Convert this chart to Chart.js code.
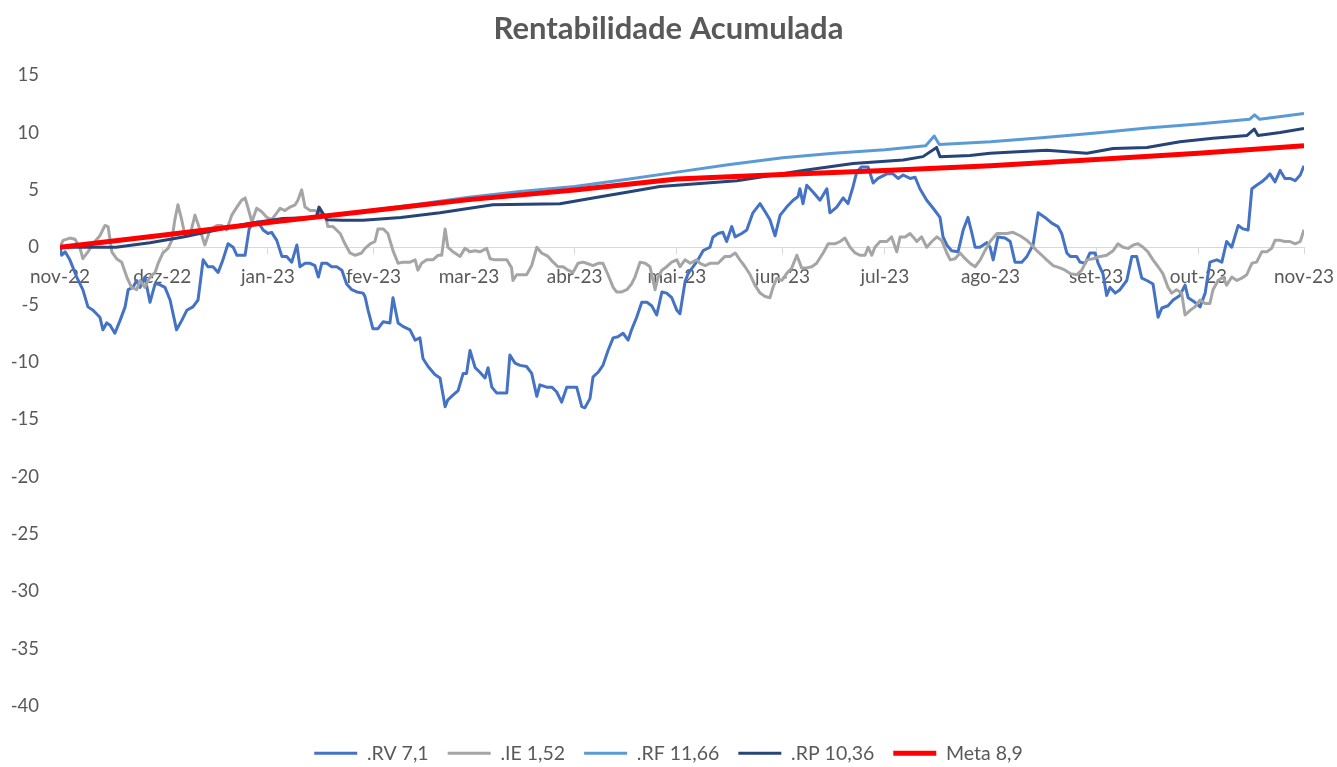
<!DOCTYPE html>
<html><head><meta charset="utf-8">
<script src="https://cdn.jsdelivr.net/npm/chart.js@4.4.0/dist/chart.umd.min.js"></script>
<style>
html,body{margin:0;padding:0;background:#fff;overflow:hidden;width:1337px;height:767px}
#wrap{position:absolute;left:0;top:0;width:1337px;height:773px}
</style>
</head><body><div id="wrap"><canvas id="c"></canvas></div>
<script>
// Month tick labels (day offsets from 1 Nov 2022)
const monthLabels = ['nov-22','dez-22','jan-23','fev-23','mar-23','abr-23','mai-23','jun-23','jul-23','ago-23','set-23','out-23','nov-23'];
const monthDays = [0,30,61,92,120,151,181,212,242,273,304,334,365];

// .RV
const rvDays = [0,0.5,1.5,2.9,4.9,6.7,8.2,9.7,11.7,12.6,13.7,14.7,16.1,17.6,19.1,20.0,21.4,22.5,23.5,24.9,26.4,27.9,28.8,30.8,32.3,34.2,35.7,37.2,39.0,40.5,42.0,43.4,44.9,46.4,47.8,49.3,50.8,51.9,53.3,54.3,55.5,56.6,58.1,59.6,61.0,62.1,63.6,65.1,66.5,68.0,69.5,70.4,71.9,73.4,74.8,75.8,76.8,78.3,79.7,81.2,82.7,84.1,85.6,87.1,88.9,89.5,90.4,91.8,93.3,94.8,96.8,97.7,99.2,100.6,102.7,104.2,105.6,106.5,108.0,110.0,111.5,113.0,113.8,115.3,116.8,118.3,119.3,120.3,121.8,123.2,124.7,125.6,126.7,128.1,129.6,131.1,132.0,133.5,135.0,136.9,138.4,139.9,140.8,142.8,144.3,145.7,147.2,148.7,150.1,151.6,153.1,154.0,155.5,156.4,157.9,159.3,160.8,162.3,163.7,165.2,166.7,167.7,169.2,170.7,172.2,173.6,175.1,176.6,178.0,179.5,181.0,181.9,183.4,184.3,187.2,188.7,190.7,191.6,193.1,194.5,195.6,197.1,198.1,200.0,201.5,203.3,205.4,206.9,208.3,209.8,211.3,213.2,215.1,216.5,217.1,218.0,219.1,221.0,223.0,225.0,225.9,227.9,229.8,231.2,232.7,233.8,235.2,237.1,238.6,240.0,242.6,244.4,245.9,247.4,249.4,250.9,252.3,254.3,256.2,258.2,259.1,260.2,261.6,263.5,265.0,266.4,267.5,268.5,269.9,271.9,272.9,273.8,275.2,277.3,278.8,280.2,282.2,283.7,285.5,287.0,289.0,291.0,292.8,293.9,295.4,296.4,298.3,299.3,300.8,302.2,303.7,304.6,306.0,307.1,308.1,309.6,311.0,313.0,314.5,315.9,317.4,318.9,320.7,322.2,323.3,325.1,326.6,328.6,330.1,331.0,333.0,334.5,336.0,337.4,339.4,340.9,342.3,343.8,345.7,347.1,348.6,349.7,351.1,352.6,354.1,355.0,356.5,358.0,359.4,360.9,362.4,363.9,365];
const rvValues = [0,-0.7,-0.4,-1.1,-2.6,-3.7,-5.2,-5.5,-6.1,-7.2,-6.6,-6.8,-7.5,-6.4,-5.2,-3.7,-3.5,-2.9,-3.5,-2.6,-4.8,-3.2,-3.2,-3.5,-4.6,-7.2,-6.4,-5.5,-5.2,-4.6,-1.1,-1.7,-1.7,-2.2,-1.1,0.3,0,-0.7,-0.7,-0.7,1.6,2.1,2.2,1.5,1.2,1.3,0.6,-0.8,-0.8,-1.3,0.2,-1.7,-1.4,-1.4,-1.6,-2.6,-1.4,-1.4,-1.7,-1.7,-2.0,-3.2,-3.7,-3.9,-4.0,-4.3,-5.5,-7.1,-7.1,-6.5,-6.6,-4.4,-6.6,-6.9,-7.2,-8.1,-7.9,-9.7,-10.4,-11.1,-11.4,-13.9,-13.3,-12.9,-12.5,-11.0,-11.0,-9.0,-10.5,-10.9,-11.4,-10.5,-12.2,-12.7,-12.7,-12.7,-9.4,-10.1,-10.3,-10.4,-11.0,-13.0,-12.0,-12.2,-12.2,-12.6,-13.5,-12.2,-12.2,-12.2,-13.9,-14.0,-13.2,-11.3,-10.9,-10.3,-9.0,-7.9,-7.8,-7.5,-8.1,-7.2,-6.1,-4.8,-4.8,-5.1,-5.9,-3.9,-4.0,-4.4,-5.5,-5.8,-3.0,-2.3,-1.1,-0.3,0,0.9,1.2,1.3,0.5,1.8,0.9,1.2,1.5,3.0,3.8,3.1,2.4,1.0,2.8,3.5,4.1,4.4,5.1,3.8,5.4,4.8,4.1,5.1,3.0,3.5,4.3,3.8,5.3,6.6,7.0,7.0,5.6,6.0,6.4,6.4,6.0,6.3,6.0,6.1,5.1,4.1,3.4,2.6,0.9,0.2,-0.3,-0.4,1.5,2.6,1.3,0,0,0.4,0,-1.1,0.9,0.8,0.5,-1.3,-1.3,-0.8,0.2,3.0,2.6,2.1,1.8,1.2,-0.5,-0.8,-0.8,-1.3,-1.4,-0.5,-0.5,-1.4,-2.3,-4.2,-3.5,-4.0,-3.7,-2.9,-0.8,-0.8,-2.7,-2.9,-3.2,-6.1,-5.3,-5.1,-4.6,-4.2,-3.3,-4.4,-4.8,-5.2,-4.0,-1.3,-1.1,-1.3,0.5,0,1.9,1.6,1.5,5.1,5.4,5.7,6.1,6.4,5.7,6.7,6.0,6.0,5.8,6.3,7.1];

// .IE
const ieDays = [0,0.9,2.9,4.4,5.9,6.7,8.2,9.7,11.7,13.2,14.1,15.2,16.6,18.1,19.6,21.0,22.5,23.5,24.9,26.4,27.9,28.8,30.2,31.7,32.8,33.7,34.6,35.7,36.7,38.1,39.6,41.1,42.5,44.0,46.0,47.4,48.9,50.4,51.9,53.3,54.3,55.2,56.3,57.7,59.2,60.7,62.1,63.6,64.6,66.0,67.5,69.0,69.8,70.9,71.9,73.4,74.8,76.3,77.8,78.6,80.1,82.2,83.6,85.1,86.6,88.5,89.5,91.0,92.4,93.3,94.8,96.2,97.7,99.2,100.6,102.7,104.2,105.0,106.1,107.6,109.4,110.9,112.0,113.0,113.8,115.3,117.4,118.8,120.3,121.8,123.2,125.2,126.2,127.6,129.1,131.1,132.5,132.9,134.0,135.5,136.9,138.4,139.9,141.3,143.2,144.7,146.1,147.6,149.1,150.5,152.0,153.5,154.5,156.4,157.9,159.3,160.8,162.3,163.3,164.8,166.3,167.7,168.7,170.2,171.7,173.1,174.6,175.5,176.6,178.0,179.5,181.0,181.9,183.4,184.9,186.8,187.8,189.3,190.7,193.1,195.1,196.6,198.1,199.5,201.0,202.5,203.9,205.4,206.9,208.3,209.2,210.3,211.8,213.2,214.7,216.2,217.6,219.1,220.6,222.0,223.9,225.4,227.4,228.9,230.3,231.8,233.3,234.7,236.2,237.1,238.2,239.1,240.6,242.6,244.0,245.5,246.5,248.0,249.4,250.3,251.4,252.8,254.3,255.8,257.3,258.7,260.2,261.2,262.6,264.1,265.6,267.0,268.5,270.0,271.4,272.9,274.9,277.8,279.6,281.7,283.7,285.1,286.6,288.1,289.5,291.4,293.4,294.9,296.4,298.3,299.8,301.3,303.1,305.2,307.1,309.0,310.4,311.9,313.4,314.9,316.3,317.8,319.2,320.7,322.2,323.6,325.1,326.2,327.6,329.1,330.1,331.6,333.0,334.5,336.0,337.4,338.3,339.8,341.3,342.3,343.8,345.3,346.7,348.2,349.7,351.1,352.6,354.1,355.5,356.5,358.0,359.4,360.9,362.4,363.9,365];
const ieValues = [0,0.6,0.8,0.7,-0.1,-1.0,-0.4,0.3,1.0,1.9,1.8,-0.4,-1.0,-1.3,-2.6,-3.5,-3.7,-2.9,-3.5,-2.6,-2.2,-1.4,-0.5,-0.1,0.6,2.4,3.7,2.4,1.0,1.0,2.8,1.5,0.2,1.5,1.9,1.9,1.5,2.8,3.5,4.1,4.3,3.4,2.2,3.4,3.1,2.6,2.4,3.0,3.4,3.2,3.5,3.7,4.1,5.0,3.5,3.2,3.2,3.0,2.8,1.8,1.8,1.2,0.3,-0.5,-0.7,-0.5,-0.1,0.3,0.5,1.6,1.6,1.2,-0.3,-1.4,-1.3,-1.3,-1.1,-2.0,-1.4,-1.1,-1.1,-0.7,-0.7,1.6,0,-0.4,-0.8,-0.1,-0.4,-0.3,-0.4,-0.1,-1.0,-1.1,-1.1,-1.1,-1.8,-2.9,-2.4,-2.4,-2.4,-1.6,0,-0.5,-0.8,-1.3,-1.7,-1.7,-2.0,-2.2,-1.4,-1.3,-1.4,-1.6,-1.4,-1.4,-2.4,-3.5,-3.9,-3.9,-3.7,-3.2,-2.6,-1.3,-1.4,-1.7,-3.7,-2.6,-2.0,-1.7,-1.3,-1.1,-1.7,-1.1,-1.4,-1.1,-1.4,-1.6,-1.4,-1.4,-0.8,-0.8,-0.5,-1.1,-1.7,-2.4,-3.3,-4.0,-4.3,-4.4,-3.5,-2.7,-2.9,-2.3,-1.8,-0.7,-1.8,-1.8,-1.7,-1.4,-0.5,0.3,0.3,0.5,0.8,0,-0.5,-0.7,-0.7,0,-0.7,0,0.5,0.5,0.9,-0.4,0.9,0.9,1.2,0.9,0.5,0.9,0,0.5,0.9,0.6,-0.5,-1.1,-1.0,-0.5,-1.0,-1.4,-1.7,-1.1,-0.3,0.5,1.2,1.2,1.3,1.0,0.6,0.2,-0.3,-0.7,-1.1,-1.6,-1.8,-2.0,-2.3,-2.4,-2.0,-1.1,-1.0,-0.8,-0.7,-0.3,0.3,0,-0.1,0.2,0.3,0,-0.4,-1.1,-1.7,-2.3,-3.5,-4.0,-3.7,-4.0,-5.9,-5.5,-5.2,-4.6,-4.9,-4.9,-3.7,-2.9,-2.6,-3.3,-2.6,-2.9,-2.7,-2.4,-1.4,-1.3,-0.4,-0.4,-0.1,0.6,0.6,0.5,0.5,0.3,0.5,1.52];

// .RF
const rfDays = [0,15,30,45,61,70,75,76,77,92,106,120,135,151,166,181,196,212,227,242,254,256.5,258,273,288,304,319,334,349,350.5,352,365];
const rfValues = [0,0.55,1.05,1.6,2.15,2.45,2.6,3.4,2.65,3.25,3.8,4.35,4.85,5.3,5.9,6.55,7.2,7.8,8.2,8.5,8.85,9.7,8.95,9.2,9.55,9.95,10.4,10.75,11.15,11.55,11.15,11.66];

// .RP
const rpDays = [0,16.4,26.4,36.1,46,55.8,65.4,75.3,76,78.3,83,88.9,100,111.5,127,146.7,156.4,166.3,176,198.6,218,232.7,247.4,253.2,257.2,258.2,267,272.9,279.6,289.5,301.3,309,318.9,328.6,338.3,348.3,350.4,351.5,358,365];
const rpValues = [0,0,0.4,0.9,1.5,2.1,2.5,2.6,3.5,2.4,2.35,2.35,2.6,3.0,3.7,3.8,4.3,4.8,5.3,5.8,6.7,7.3,7.6,7.9,8.7,7.9,8.0,8.2,8.3,8.45,8.2,8.6,8.7,9.2,9.5,9.75,10.3,9.75,10.0,10.36];

// Meta
const metaDays = [0,30,61,92,120,151,181,212,242,273,304,334,365];
const metaValues = [0,1.05,2.15,3.2,4.15,5.0,5.95,6.35,6.7,7.1,7.65,8.2,8.85];

const seriesLabels = ['.RV 7,1', '.IE 1,52', '.RF 11,66', '.RP 10,36', 'Meta 8,9'];

const toPoints = (d, v) => d.map((x, i) => ({x: x, y: v[i]}));

Chart.defaults.font.family = 'Lato, "Open Sans", "DejaVu Sans", sans-serif';
Chart.defaults.color = '#595959';

new Chart(document.getElementById('c'), {
  type: 'line',
  data: {
    datasets: [
      {label: seriesLabels[0], data: toPoints(rvDays, rvValues), borderColor: '#4472C4', backgroundColor: '#4472C4', borderWidth: 3, order: 5},
      {label: seriesLabels[1], data: toPoints(ieDays, ieValues), borderColor: '#A5A5A5', backgroundColor: '#A5A5A5', borderWidth: 3, order: 4},
      {label: seriesLabels[2], data: toPoints(rfDays, rfValues), borderColor: '#5B9BD5', backgroundColor: '#5B9BD5', borderWidth: 3, order: 3},
      {label: seriesLabels[3], data: toPoints(rpDays, rpValues), borderColor: '#264478', backgroundColor: '#264478', borderWidth: 3, order: 2},
      {label: seriesLabels[4], data: toPoints(metaDays, metaValues), borderColor: '#FF0000', backgroundColor: '#FF0000', borderWidth: 5, order: 1}
    ]
  },
  options: {
    responsive: true,
    maintainAspectRatio: false,
    animation: false,
    layout: {padding: 0},
    elements: {point: {radius: 0, hoverRadius: 0}, line: {tension: 0, borderJoinStyle: 'round', fill: false}},
    plugins: {
      title: {display: true, text: 'Rentabilidade Acumulada', color: '#595959', font: {size: 31, weight: 'bold'}, padding: {top: 10.4, bottom: 27.6}},
      legend: {
        position: 'bottom',
        labels: {
          usePointStyle: true, pointStyle: 'line', pointStyleWidth: 43,
          color: '#595959', font: {size: 19.5}, padding: 19,
          sort: (a, b) => a.datasetIndex - b.datasetIndex
        }
      },
      tooltip: {enabled: false}
    },
    scales: {
      x: {
        type: 'linear', min: 0, max: 365, position: {y: 0},
        afterBuildTicks: s => { s.ticks = monthDays.map(v => ({value: v})); },
        afterFit: s => { s.paddingLeft = 0; s.paddingRight = 0; },
        ticks: {callback: (v, i) => monthLabels[i], autoSkip: false, maxRotation: 0, minRotation: 0, color: '#595959', font: {size: 19}, padding: 12},
        grid: {display: true, drawOnChartArea: false, drawTicks: true, tickLength: 6, color: '#D9D9D9'},
        border: {display: true, color: '#D9D9D9', width: 1}
      },
      y: {
        min: -40, max: 15,
        ticks: {stepSize: 5, color: '#595959', font: {size: 18.5}, padding: 21},
        grid: {display: false, drawTicks: false},
        border: {display: false},
        afterFit: s => { s.width = 60; }
      },
      rightSpacer: {
        type: 'linear', axis: 'y', position: 'right', display: true,
        ticks: {display: false}, grid: {display: false, drawTicks: false}, border: {display: false},
        afterFit: s => { s.width = 33; }
      },
      spacer: {
        type: 'linear', axis: 'x', position: 'bottom', display: true,
        ticks: {display: false}, grid: {display: false, drawTicks: false}, border: {display: false},
        afterFit: s => { s.height = 18.5; }
      }
    }
  }
});
</script>
</body></html>
